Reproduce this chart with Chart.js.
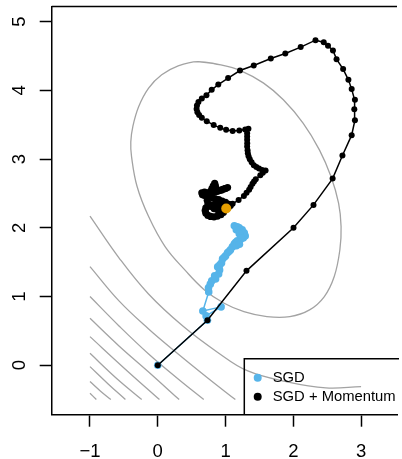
<!DOCTYPE html>
<html>
<head>
<meta charset="utf-8">
<script src="https://cdn.jsdelivr.net/npm/chart.js@4.4.0/dist/chart.umd.min.js"></script>
<style>
  html, body { margin: 0; padding: 0; background: #fff; overflow: hidden; }
  #wrap { width: 402px; height: 459px; }
</style>
</head>
<body>
<div id="wrap"><canvas id="paths"></canvas></div>
<script>
// Axis ticks
const xTicks = [-1, 0, 1, 2, 3];
const yTicks = [0, 1, 2, 3, 4, 5];

// Plain SGD iterates (first step shared with the momentum run)
const sgdPath = [
  [0, 0], [0.733, 0.655], [0.713, 0.718], [0.934, 0.849], [0.665, 0.790], [0.752, 1.067],
  [0.748, 1.125], [0.775, 1.180], [0.796, 1.227], [0.853, 1.256], [0.839, 1.300], [0.898, 1.329],
  [0.912, 1.387], [0.884, 1.431], [0.915, 1.460], [0.941, 1.489], [0.956, 1.547], [0.980, 1.570],
  [1.000, 1.591], [1.029, 1.635], [1.050, 1.655], [1.072, 1.678], [1.101, 1.722], [1.130, 1.766],
  [1.150, 1.790], [1.174, 1.809], [1.217, 1.824], [1.261, 1.853], [1.290, 1.882], [1.276, 1.926],
  [1.246, 1.970], [1.203, 1.999], [1.174, 2.014], [1.130, 2.028], [1.159, 1.970], [1.203, 1.912],
  [1.232, 1.853], [1.188, 1.795], [1.160, 1.740], [1.205, 1.760]
];

// SGD with momentum iterates
const momentumPath = [
  [0, 0], [0.733, 0.655], [1.309, 1.373], [2.003, 1.999], [2.298, 2.333], [2.580, 2.716],
  [2.725, 3.051], [2.861, 3.348], [2.909, 3.566], [2.900, 3.726], [2.909, 3.862], [2.861, 4.018],
  [2.813, 4.153], [2.735, 4.309], [2.638, 4.454], [2.585, 4.580], [2.512, 4.648], [2.449, 4.701],
  [2.327, 4.730], [2.109, 4.629], [1.882, 4.536], [1.668, 4.463], [1.416, 4.361], [1.213, 4.288],
  [1.038, 4.178], [0.893, 4.085], [0.796, 4.007], [0.718, 3.930], [0.650, 3.880], [0.600, 3.830],
  [0.578, 3.780], [0.573, 3.730], [0.585, 3.680], [0.610, 3.640], [0.650, 3.600], [0.723, 3.552],
  [0.825, 3.494], [0.922, 3.454], [1.009, 3.425], [1.105, 3.410], [1.203, 3.415], [1.290, 3.429],
  [1.338, 3.440], [1.319, 3.377], [1.319, 3.330], [1.319, 3.280], [1.320, 3.230], [1.319, 3.182],
  [1.325, 3.130], [1.329, 3.086], [1.340, 3.040], [1.358, 2.999], [1.385, 2.955], [1.417, 2.911],
  [1.455, 2.885], [1.494, 2.862], [1.540, 2.840], [1.591, 2.833], [1.550, 2.800], [1.513, 2.766],
  [1.446, 2.707], [1.420, 2.672], [1.397, 2.639], [1.370, 2.595], [1.348, 2.552], [1.310, 2.508],
  [1.271, 2.464], [1.193, 2.406], [1.105, 2.348], [1.070, 2.325], [1.040, 2.300], [1.000, 2.270],
  [0.970, 2.225], [0.930, 2.190], [0.880, 2.170], [0.830, 2.160], [0.780, 2.165], [0.740, 2.180],
  [0.710, 2.210], [0.700, 2.250], [0.710, 2.290], [0.750, 2.320], [0.800, 2.335], [0.850, 2.340],
  [0.900, 2.345], [0.950, 2.345], [1.000, 2.345], [1.050, 2.340], [1.000, 2.370], [0.950, 2.390],
  [0.900, 2.410], [0.850, 2.420], [0.800, 2.440], [0.750, 2.450], [0.700, 2.465], [0.660, 2.480],
  [0.650, 2.510], [0.690, 2.520], [0.740, 2.510], [0.790, 2.510], [0.840, 2.520], [0.880, 2.530],
  [0.920, 2.545], [0.960, 2.560], [1.000, 2.570], [1.030, 2.585], [0.990, 2.570], [0.940, 2.550],
  [0.890, 2.545], [0.860, 2.570], [0.850, 2.610], [0.840, 2.645], [0.820, 2.610], [0.800, 2.570],
  [0.780, 2.530], [0.760, 2.490], [0.740, 2.450], [0.730, 2.400], [0.740, 2.350], [0.780, 2.310],
  [0.830, 2.280], [0.880, 2.265], [0.930, 2.270], [0.970, 2.280]
];
// iterates from here on wander around the minimum
const settleFrom = 69;

// Minimum of the loss
const optimum = [[1.01, 2.28]];

// Loss contours: the closed level around the minimum, then the outer levels
const innerLevel = [
  [0.592, 4.419], [0.931, 4.371], [1.222, 4.288], [1.562, 4.105], [1.853, 3.862], [2.144, 3.523],
  [2.385, 3.134], [2.556, 2.745], [2.668, 2.358], [2.705, 2.017], [2.687, 1.679], [2.604, 1.290],
  [2.458, 0.999], [2.240, 0.805], [1.949, 0.707], [1.610, 0.707], [1.271, 0.780], [0.980, 0.902],
  [0.689, 1.096], [0.399, 1.387], [0.108, 1.726], [-0.135, 2.163], [-0.305, 2.600], [-0.387, 3.036],
  [-0.398, 3.250], [-0.368, 3.473], [-0.281, 3.764], [-0.135, 4.032], [0.058, 4.226], [0.301, 4.357]
];
const outerLevels = [
  [[-1, 2.17], [-0.57, 1.56], [-0.14, 1.04], [0.37, 0.57], [0.88, 0.19], [1.32, -0.08], [1.9, -0.24], [2.48, -0.33], [3, -0.31]],
  [[-1, 1.435], [-0.572, 0.936], [-0.135, 0.528], [0.301, 0.164], [0.737, -0.185], [1.145, -0.5]],
  [[-1, 0.999], [-0.572, 0.572], [-0.135, 0.164], [0.301, -0.2], [0.679, -0.5]],
  [[-1, 0.683], [-0.572, 0.281], [-0.135, -0.098], [0.316, -0.5]],
  [[-1, 0.416], [-0.499, -0.039], [0.025, -0.5]],
  [[-1, 0.173], [-0.615, -0.185], [-0.237, -0.5]],
  [[-1, -0.02], [-0.732, -0.272], [-0.477, -0.5]],
  [[-1, -0.238], [-0.848, -0.374], [-0.692, -0.5]],
  [[-1, -0.407], [-0.906, -0.5]]
];

const FONT = "'Liberation Sans', Arial, Helvetica, sans-serif";
const toXY = pts => pts.map(([x, y]) => ({ x, y }));
const fmt = v => (v < 0 ? '\u2212' + Math.abs(v) : String(v));

const contourSets = [innerLevel.concat([innerLevel[0], innerLevel[1]])].concat(outerLevels).map(pts => ({
  data: toXY(pts),
  showLine: true,
  borderColor: '#a3a3a3',
  borderWidth: 1.3,
  pointRadius: 0,
  tension: 0.4,
  order: 3
}));

const datasets = [
  {
    data: toXY(optimum),
    pointRadius: 5,
    pointBackgroundColor: '#E69F00',
    pointBorderWidth: 0,
    order: 0
  },
  {
    label: 'SGD + Momentum',
    key: true,
    data: toXY(momentumPath),
    showLine: true,
    borderColor: '#000',
    borderWidth: 1.5,
    pointRadius: c => (c.dataIndex >= settleFrom ? 3.6 : 3),
    pointBackgroundColor: '#000',
    pointBorderWidth: 0,
    order: 1
  },
  {
    label: 'SGD',
    key: true,
    data: toXY(sgdPath),
    showLine: true,
    borderColor: '#56B4E9',
    borderWidth: 1.5,
    pointRadius: 3.8,
    pointBackgroundColor: '#56B4E9',
    pointBorderWidth: 0,
    order: 2
  }
].concat(contourSets);

// scales must not reserve room for overhanging labels
const noOverhang = s => {
  s.paddingTop = 0; s.paddingBottom = 0; s.paddingLeft = 0; s.paddingRight = 0;
};

// top edge of the plot box plus the boxed key in the lower right
const boxAndKey = {
  id: 'boxAndKey',
  afterDatasetsDraw(chart) {
    const { ctx, chartArea: a } = chart;
    ctx.save();
    ctx.strokeStyle = '#000';
    ctx.lineWidth = 1.5;
    ctx.beginPath();
    ctx.moveTo(a.left, a.top);
    ctx.lineTo(a.right, a.top);
    ctx.stroke();

    const left = 244.3, top = 358.7;
    ctx.beginPath();
    ctx.moveTo(a.right + 2, top);
    ctx.lineTo(left, top);
    ctx.lineTo(left, a.bottom);
    ctx.stroke();

    const entries = chart.data.datasets.filter(d => d.key).sort((p, q) => q.order - p.order);
    ctx.font = '14.8px ' + FONT;
    ctx.textBaseline = 'middle';
    ctx.textAlign = 'left';
    entries.forEach((d, i) => {
      const cy = 377.7 + i * 19;
      ctx.fillStyle = d.pointBackgroundColor;
      ctx.beginPath();
      ctx.arc(257.7, cy, 4, 0, Math.PI * 2);
      ctx.fill();
      ctx.fillStyle = '#000';
      ctx.fillText(d.label, 272.7, cy + 0.5);
    });
    ctx.restore();
  }
};

new Chart(document.getElementById('paths'), {
  type: 'scatter',
  data: { datasets },
  options: {
    responsive: true,
    maintainAspectRatio: false,
    animation: false,
    layout: { padding: { top: 6.5, right: 0, left: 0, bottom: 0 } },
    plugins: { legend: { display: false }, tooltip: { enabled: false } },
    scales: {
      x: {
        type: 'linear',
        min: -1.565,
        max: 3.53,
        afterBuildTicks: s => { s.ticks = xTicks.map(v => ({ value: v })); },
        afterFit: s => { s.height = 44.3; noOverhang(s); },
        grid: { drawOnChartArea: false, drawTicks: true, tickLength: 12, tickColor: '#000', tickWidth: 1.5 },
        border: { display: true, color: '#000', width: 1.5 },
        ticks: { color: '#000', font: { family: FONT, size: 18.5 }, padding: 14, autoSkip: false, maxRotation: 0, callback: fmt }
      },
      y: {
        type: 'linear',
        min: -0.72,
        max: 5.22,
        afterBuildTicks: s => { s.ticks = yTicks.map(v => ({ value: v })); },
        afterFit: s => { s.width = 51.7; noOverhang(s); },
        grid: { drawOnChartArea: false, drawTicks: true, tickLength: 12, tickColor: '#000', tickWidth: 1.5 },
        border: { display: true, color: '#000', width: 1.5 },
        ticks: {
          color: '#000', font: { family: FONT, size: 18.5 }, padding: 15, autoSkip: false,
          minRotation: 90, maxRotation: 90, crossAlign: 'center', callback: fmt
        }
      }
    }
  },
  plugins: [boxAndKey]
});
</script>
</body>
</html>
